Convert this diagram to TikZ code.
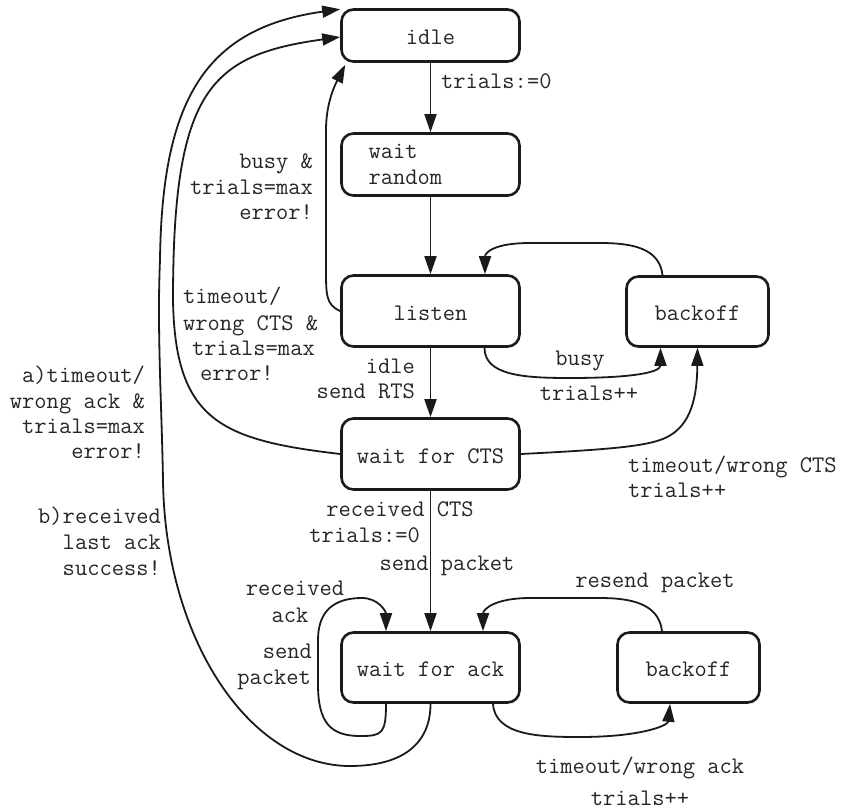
\documentclass[tikz,border=0pt]{standalone}
\usepackage{fontspec}
\usetikzlibrary{arrows.meta,calc}
\definecolor{ink}{HTML}{1A1A1A}
\definecolor{txt}{HTML}{262626}
\newcommand{\lblfont}{\ttfamily\fontsize{23.8pt}{26pt}\selectfont}
\tikzset{
  boxbase/.style={draw=ink, line width=2.6pt, rounded corners=12pt, inner sep=0pt, font=\lblfont, text=txt},
  box/.style={boxbase, text height=18pt, text depth=0pt},
  arr/.style={draw=ink, line width=1.8pt, -{Triangle[length=18pt,width=12pt]}},
  lbl/.style={inner sep=0pt, font=\lblfont, text=txt}
}
\begin{document}
\begin{tikzpicture}[x=1pt,y=-1pt]
\useasboundingbox (0,0) rectangle (847,812);
% states
\node[box, minimum width=178pt, minimum height=52pt] (idle) at (430.5,35.5) {idle};
\node[boxbase, minimum width=178pt, minimum height=62pt, align=left, text width=124pt] (wr) at (430.5,164.5) {wait\\random};
\node[box, minimum width=178pt, minimum height=71pt] (listen) at (430.5,311) {listen};
\node[box, minimum width=142pt, minimum height=70pt] (bo1) at (697.5,311.5) {backoff};
\node[box, minimum width=178pt, minimum height=71pt] (waitcts) at (430.5,454) {wait for CTS};
\node[box, minimum width=178pt, minimum height=70pt] (waitack) at (430.5,667.5) {wait for ack};
\node[box, minimum width=142pt, minimum height=70pt] (bo2) at (688.5,667.5) {backoff};
% straight transitions
\draw[arr] (idle.south) -- (wr.north);
\draw[arr] (wr.south) -- (listen.north);
\draw[arr] (listen.south) -- (waitcts.north);
\draw[arr] (waitcts.south) -- (waitack.north);
% backoff -> listen
\draw[arr] ([xshift=-35pt]bo1.north) .. controls +(-3,-28) and +(30,0) .. (600,243) -- (530,243) .. controls +(-35,0) and +(0,-22) .. ([xshift=54.5pt]listen.north);
% listen -> idle
\draw[arr] (listen.west) .. controls +(-14,-6) and +(0,25) .. (326,270) -- (326,130) .. controls +(0,-30) and +(-8,16) .. ([xshift=5pt,yshift=-2pt]idle.south west);
% listen -> backoff (busy)
\draw[arr] ([xshift=54pt]listen.south) .. controls +(0,28) and +(-45,0) .. (570,378) .. controls +(60,0) and +(0,25) .. ([xshift=-37pt]bo1.south);
% wait for CTS -> backoff
\draw[arr] (waitcts.east) .. controls (600,450) and (640,447) .. (660,440) .. controls (690,430) and (697,400) .. (bo1.south);
% wait for CTS -> idle
\draw[arr] (waitcts.west) .. controls (220,440) and (175,420) .. (173,300) .. controls (173,90) and (210,55) .. ([yshift=-1.5pt]idle.west);
% wait for ack -> idle
\draw[arr] (waitack.south) .. controls +(0,42) and +(50,0) .. (350,766) .. controls +(-100,0) and +(2,160) .. (163,480) .. controls (161.5,400) and (157,330) .. (160,260) .. controls (162,100) and (205,28) .. ([yshift=-1pt]idle.north west);
% self loop on wait for ack
\draw[arr] ([xshift=-44.5pt]waitack.south) .. controls +(0,30) and +(22,0) .. (360,736) .. controls +(-30,0) and +(0,38) .. (318,684) -- (318,640) .. controls +(0,-30) and +(-27,0) .. (362,598) .. controls +(16,0) and +(0,-20) .. ([xshift=-44.5pt]waitack.north);
% wait for ack -> backoff
\draw[arr] ([xshift=62.5pt]waitack.south) .. controls +(2,32) and +(-40,0) .. (580,737) .. controls +(60,0) and +(-2,22) .. ([xshift=-18.5pt]bo2.south);
% backoff -> wait for ack
\draw[arr] ([xshift=-26.5pt]bo2.north) .. controls +(-3,-28) and +(30,0) .. (600,598) -- (530,598) .. controls +(-35,0) and +(0,-22) .. ([xshift=52.5pt]waitack.north);
% labels
\node[lbl, anchor=base west] (la1) at (441,88.5) {trials:=0};
\node[lbl, anchor=base east] (lb1) at (313,168.5) {busy \&};
\node[lbl, anchor=base east] (lb2) at (313,194.5) {trials=max};
\node[lbl, anchor=base east] (lb3) at (313,219.5) {error!};
\node[lbl, anchor=base west] (lc1) at (183,303.5) {timeout/};
\node[lbl, anchor=base west] (lc2) at (183,330.5) {wrong CTS \&};
\node[lbl, anchor=base west] (lc3) at (192,355.5) {trials=max};
\node[lbl, anchor=base west] (lc4) at (200,380.5) {error!};
\node[lbl, anchor=base east] (ld1) at (145,382.5) {a)timeout/};
\node[lbl, anchor=base east] (ld2) at (145,408.5) {wrong ack \&};
\node[lbl, anchor=base east] (ld3) at (145,433.5) {trials=max};
\node[lbl, anchor=base east] (ld4) at (145,458.5) {error!};
\node[lbl, anchor=base east] (le1) at (161,523.5) {b)received};
\node[lbl, anchor=base east] (le2) at (161,549.5) {last ack};
\node[lbl, anchor=base east] (le3) at (161,575.5) {success!};
\node[lbl, anchor=base east] (lf1) at (415,373.5) {idle};
\node[lbl, anchor=base east] (lf2) at (415,398.5) {send RTS};
\node[lbl, anchor=base] (lg1) at (580,365.5) {busy};
\node[lbl, anchor=base] (lg2) at (589,400.5) {trials++};
\node[lbl, anchor=base west] (lh1) at (628,472.5) {timeout/wrong CTS};
\node[lbl, anchor=base west] (lh2) at (628,497.5) {trials++};
\node[lbl, anchor=base] (li1) at (400,516.5) {received CTS};
\node[lbl, anchor=base east] (li2) at (420,542.5) {trials:=0};
\node[lbl, anchor=base] (li3) at (447,570.5) {send packet};
\node[lbl, anchor=base] (lj1) at (295,595.5) {received};
\node[lbl, anchor=base] (lj2) at (290,622.5) {ack};
\node[lbl, anchor=base east] (lk1) at (312,658.5) {send};
\node[lbl, anchor=base east] (lk2) at (311,684.5) {packet};
\node[lbl, anchor=base] (ll1) at (655,587.5) {resend packet};
\node[lbl, anchor=base] (lm1) at (640,773.5) {timeout/wrong ack};
\node[lbl, anchor=base] (lm2) at (640,805.5) {trials++};
\end{tikzpicture}
\end{document}
